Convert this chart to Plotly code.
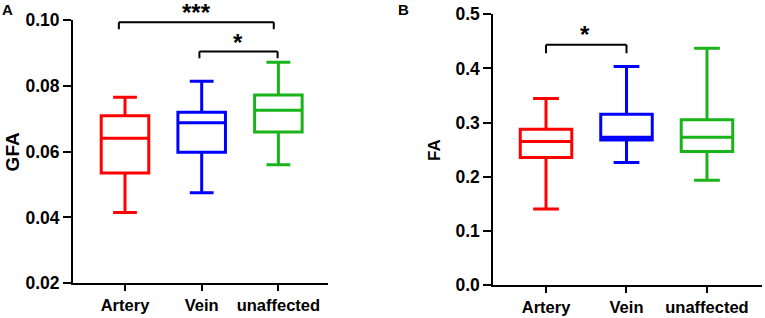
import plotly.graph_objects as go

categories = ["Artery", "Vein", "unaffected"]
colors = ["#FF0000", "#0000FF", "#19B419"]

# GFA (panel A)
gfa_q1 = [0.0535, 0.0598, 0.0660]
gfa_median = [0.0641, 0.0688, 0.0726]
gfa_q3 = [0.0709, 0.0720, 0.0772]
gfa_low = [0.0415, 0.0475, 0.0560]
gfa_high = [0.0765, 0.0814, 0.0872]

# FA (panel B)
fa_q1 = [0.2353, 0.2680, 0.2464]
fa_median = [0.2649, 0.2730, 0.2730]
fa_q3 = [0.2878, 0.3155, 0.3050]
fa_low = [0.1405, 0.2263, 0.1935]
fa_high = [0.3444, 0.4035, 0.4375]

# significance brackets: (x_start, x_end, y_bar, y_tick_end, label, label_x, label_y_paper)
gfa_sig = [(-0.08, 1.94, 0.0993, 0.0972, "***", 0.93, 0.961),
           (0.97, 1.99, 0.0904, 0.0884, "*", 1.47, 0.866)]
fa_sig = [(0.0, 1.0, 0.4436, 0.428, "*", 0.49, 0.892)]

FONT = "Arial, Liberation Sans, sans-serif"
fig = go.Figure()

xpos = list(range(len(categories)))
for i, c in enumerate(categories):
    fig.add_trace(go.Box(x=[xpos[i]], q1=[gfa_q1[i]], median=[gfa_median[i]], q3=[gfa_q3[i]],
                         lowerfence=[gfa_low[i]], upperfence=[gfa_high[i]], name=c,
                         line=dict(color=colors[i], width=3), fillcolor="rgba(0,0,0,0)",
                         width=0.62, whiskerwidth=0.5, showlegend=False,
                         xaxis="x", yaxis="y"))
    fig.add_trace(go.Box(x=[xpos[i]], q1=[fa_q1[i]], median=[fa_median[i]], q3=[fa_q3[i]],
                         lowerfence=[fa_low[i]], upperfence=[fa_high[i]], name=c,
                         line=dict(color=colors[i], width=3), fillcolor="rgba(0,0,0,0)",
                         width=0.64, whiskerwidth=0.5, showlegend=False,
                         xaxis="x2", yaxis="y2"))

axis_common = dict(showline=True, linecolor="black", linewidth=2, ticks="outside",
                   tickwidth=2, tickcolor="black", showgrid=False,
                   zeroline=False, automargin=False)
ytick = dict(ticklen=8, tickfont=dict(family=FONT, size=17.5, color="black", weight="bold"))
xtick = dict(ticklen=6, tickfont=dict(family=FONT, size=16.5, color="black", weight="bold"))

shapes = []
annotations = []
for (xs, xe, yb, yt, lab, lx, ly), xr, yr in [(s, "x", "y") for s in gfa_sig] + [(s, "x2", "y2") for s in fa_sig]:
    line = dict(color="black", width=2)
    shapes.append(dict(type="line", xref=xr, yref=yr, x0=xs, x1=xe, y0=yb, y1=yb, line=line))
    shapes.append(dict(type="line", xref=xr, yref=yr, x0=xs, x1=xs, y0=yb, y1=yt, line=line))
    shapes.append(dict(type="line", xref=xr, yref=yr, x0=xe, x1=xe, y0=yb, y1=yt, line=line))
    annotations.append(dict(text=lab, xref=xr, yref="paper", x=lx, y=ly, showarrow=False,
                            xanchor="center", yanchor="middle",
                            font=dict(family=FONT, size=24, color="black", weight="bold")))

for txt, x, y, size in [("GFA", 12.7 / 765, 1 - 151.7 / 318, 19), ("FA", 434 / 765, 1 - 150 / 318, 17)]:
    annotations.append(dict(text=txt, xref="paper", yref="paper", x=x, y=y, textangle=-90,
                            xanchor="center", yanchor="middle", showarrow=False,
                            font=dict(family=FONT, size=size, color="black", weight="bold")))
for txt, x in [("A", 8 / 765), ("B", 403 / 765)]:
    annotations.append(dict(text=txt, xref="paper", yref="paper", x=x, y=1 - 10 / 318,
                            xanchor="center", yanchor="middle",
                            showarrow=False, font=dict(family=FONT, size=15, color="black", weight="bold")))

fig.update_layout(
    width=765, height=318, margin=dict(l=0, r=0, t=0, b=0, autoexpand=False),
    paper_bgcolor="white", plot_bgcolor="white", showlegend=False,
    xaxis=dict(domain=[73 / 765, 328 / 765], range=[-0.678, 2.647],
               tickvals=xpos, ticktext=categories, anchor="y", **axis_common, **xtick),
    yaxis=dict(domain=[(318 - 283.3) / 318, (318 - 20) / 318], range=[0.02, 0.10],
               tickvals=[0.02, 0.04, 0.06, 0.08, 0.10], tickformat=".2f", anchor="x",
               **axis_common, **ytick),
    xaxis2=dict(domain=[493.3 / 765, 761.7 / 765], range=[-0.655, 2.68],
                tickvals=xpos, ticktext=categories, anchor="y2", **axis_common, **xtick),
    yaxis2=dict(domain=[(318 - 285) / 318, (318 - 14.3) / 318], range=[0, 0.5],
                tickvals=[0, 0.1, 0.2, 0.3, 0.4, 0.5], tickformat=".1f", anchor="x2",
                **axis_common, **ytick),
    shapes=shapes, annotations=annotations,
    font=dict(family=FONT, color="black"),
)

fig.write_html("out.html", config={"displayModeBar": False},
               post_script="document.body.style.margin='0px';")
